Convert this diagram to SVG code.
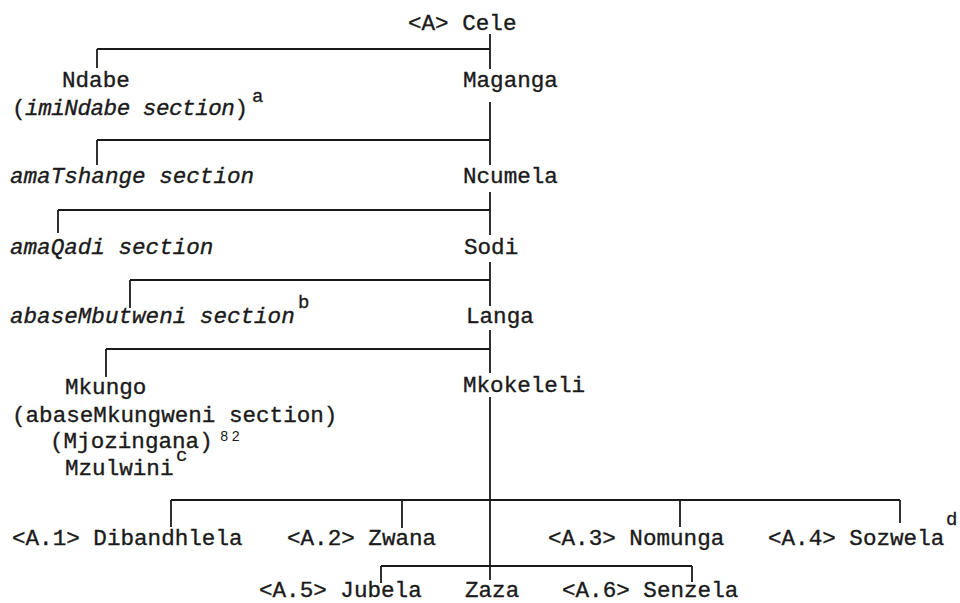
<svg xmlns="http://www.w3.org/2000/svg" width="960" height="603" viewBox="0 0 960 603">
<style>
.t{font-family:"Liberation Mono","DejaVu Sans Mono",monospace;font-size:22.6px;fill:#1a1a1a;stroke:#1a1a1a;stroke-width:0.35}
.i{font-style:italic}
.s{font-family:"Liberation Mono","DejaVu Sans Mono",monospace;font-size:19px;fill:#1a1a1a;stroke:#1a1a1a;stroke-width:0.3}
.n{font-family:"Liberation Mono","DejaVu Sans Mono",monospace;font-size:14px;fill:#1a1a1a;letter-spacing:3px}
.c line{stroke:#1a1a1a;stroke-width:1.8;fill:none}
</style>
<rect width="960" height="603" fill="#ffffff"/>
<g class="c" id="connectors">
<line x1="490" y1="34" x2="490" y2="69"/>
<line x1="97" y1="49" x2="490" y2="49"/>
<line x1="97" y1="49" x2="97" y2="68"/>
<line x1="490" y1="102" x2="490" y2="165"/>
<line x1="97" y1="140" x2="490" y2="140"/>
<line x1="97" y1="140" x2="97" y2="165"/>
<line x1="490" y1="192" x2="490" y2="235"/>
<line x1="58" y1="210" x2="490" y2="210"/>
<line x1="58" y1="210" x2="58" y2="233"/>
<line x1="490" y1="262" x2="490" y2="306"/>
<line x1="130" y1="280" x2="490" y2="280"/>
<line x1="130" y1="280" x2="130" y2="308"/>
<line x1="490" y1="330" x2="490" y2="373"/>
<line x1="106" y1="349" x2="490" y2="349"/>
<line x1="106" y1="349" x2="106" y2="377"/>
<line x1="490" y1="397" x2="490" y2="580"/>
<line x1="171" y1="500" x2="900" y2="500"/>
<line x1="171" y1="500" x2="171" y2="527"/>
<line x1="402" y1="500" x2="402" y2="528"/>
<line x1="680" y1="500" x2="680" y2="527"/>
<line x1="900" y1="500" x2="900" y2="523"/>
<line x1="381" y1="566" x2="692" y2="566"/>
<line x1="381" y1="566" x2="381" y2="583"/>
<line x1="692" y1="566" x2="692" y2="582"/>
</g>
<g id="cele"><text class="t" x="408" y="30">&lt;A&gt; Cele</text></g>
<g id="ndabe">
<text class="t" x="62" y="87">Ndabe</text>
<text class="t" x="12" y="115" textLength="236" lengthAdjust="spacing">(<tspan class="i">imiNdabe section</tspan>)</text>
<text class="s" x="252" y="102">a</text>
</g>
<g id="maganga"><text class="t" x="463" y="87">Maganga</text></g>
<g id="amatshange"><text class="t i" x="10" y="183">amaTshange section</text></g>
<g id="ncumela"><text class="t" x="463" y="183">Ncumela</text></g>
<g id="amaqadi"><text class="t i" x="10" y="254">amaQadi section</text></g>
<g id="sodi"><text class="t" x="464" y="254">Sodi</text></g>
<g id="abasembutweni">
<text class="t i" x="10" y="323">abaseMbutweni section</text>
<text class="s" x="298" y="308">b</text>
</g>
<g id="langa"><text class="t" x="466" y="323">Langa</text></g>
<g id="mkungo">
<text class="t" x="65" y="394">Mkungo</text>
<text class="t" x="12" y="422">(abaseMkungweni section)</text>
<text class="t" x="50" y="448">(Mjozingana)</text>
<text class="n" x="220" y="441">82</text>
<text class="t" x="65" y="475">Mzulwini</text>
<text class="s" x="176" y="461">c</text>
</g>
<g id="mkokeleli"><text class="t" x="463" y="392">Mkokeleli</text></g>
<g id="dibandhlela"><text class="t" x="12" y="545">&lt;A.1&gt; Dibandhlela</text></g>
<g id="zwana"><text class="t" x="287" y="545">&lt;A.2&gt; Zwana</text></g>
<g id="nomunga"><text class="t" x="548" y="545">&lt;A.3&gt; Nomunga</text></g>
<g id="sozwela">
<text class="t" x="768" y="545">&lt;A.4&gt; Sozwela</text>
<text class="s" x="946" y="525">d</text>
</g>
<g id="jubela"><text class="t" x="259" y="597">&lt;A.5&gt; Jubela</text></g>
<g id="zaza"><text class="t" x="465" y="597">Zaza</text></g>
<g id="senzela"><text class="t" x="562" y="597">&lt;A.6&gt; Senzela</text></g>
</svg>
